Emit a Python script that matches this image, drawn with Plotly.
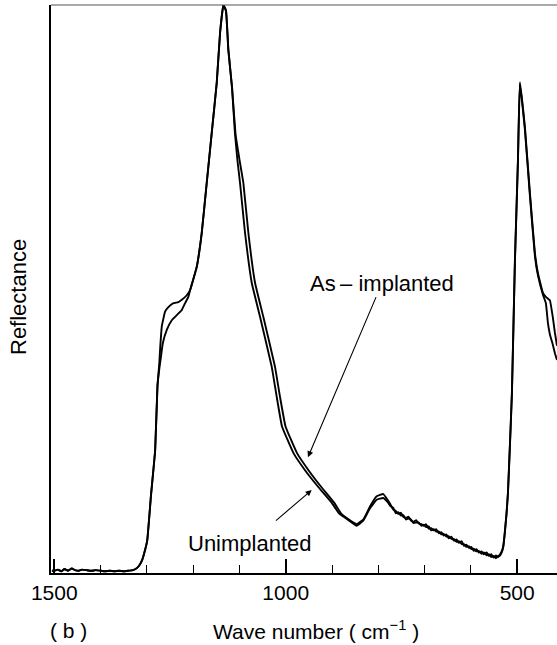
import plotly.graph_objects as go

# ---------------- data ----------------
# common low-wavenumber baseline + rise (shared by both spectra)
common_wn = [1505, 1500, 1492, 1485, 1478, 1470, 1462, 1455, 1447, 1440, 1430,
             1420, 1410, 1400, 1390, 1380, 1370, 1360, 1350, 1340, 1330, 1321,
             1315, 1310, 1304, 1299, 1291, 1282, 1277]
common_r = [0.4, 0.4, 0.6, 0.3, 0.7, 0.4, 0.8, 0.5, 0.4, 0.6, 0.5,
            0.4, 0.5, 0.4, 0.3, 0.4, 0.3, 0.4, 0.3, 0.4, 0.5, 0.9,
            1.5, 2.3, 4.0, 5.8, 13.7, 21.6, 33.0]

# shoulder (~1250 cm-1)
asimp_shoulder_wn = [1273, 1271.4, 1267.7, 1260.6, 1253.5, 1242.7, 1231.9, 1224.5, 1213.7]
asimp_shoulder_r = [37.0, 39.3, 43.4, 46.0, 46.8, 47.5, 47.7, 48.1, 48.9]
unimp_shoulder_wn = [1273, 1269.9, 1265.6, 1256.9, 1246.1, 1235.3, 1224.5, 1217.4, 1210.3]
unimp_shoulder_r = [36.0, 37.8, 40.4, 42.8, 44.5, 45.4, 46.3, 47.5, 48.6]

# main peak (~1135 cm-1), shared
peak_wn = [1206.6, 1192.2, 1181.4, 1170.6, 1159.8, 1149.0, 1141.8, 1134.7, 1129.0,
           1123.9, 1116.0]
peak_r = [49.8, 53.9, 59.9, 68.7, 77.5, 86.3, 95.1, 100.0, 99.0,
          92.1, 85.5]

# high-frequency tail of the main band
asimp_tail_wn = [1108.0, 1099.5, 1091.5, 1080.7, 1066.3, 1048.4, 1023.1, 1012.3, 1000.4, 975.6,
                 950.8, 922.7, 894.6, 880.6, 861.2, 846.7]
asimp_tail_r = [77.0, 72.6, 68.7, 59.9, 51.1, 45.1, 36.3, 31.0, 25.8, 21.1,
                18.1, 15.1, 12.3, 10.5, 9.3, 8.6]
unimp_tail_wn = [1110.0, 1104.5, 1098.7, 1087.9, 1073.4, 1055.5, 1030.2, 1019.4, 1008.0, 983.2,
                 958.3, 929.2, 900.0, 884.9, 864.4, 846.7]
unimp_tail_r = [77.8, 72.8, 68.7, 59.9, 51.1, 45.1, 36.3, 31.0, 25.8, 21.1,
                18.1, 15.1, 12.3, 10.5, 9.3, 8.3]

# small band near 790 cm-1 and noisy decline to ~540 cm-1
asimp_mid_wn = [832.5, 818, 803.5, 789.3, 780, 774, 768, 762, 757, 751, 746, 740,
                735, 729, 724, 718, 713, 707, 702, 697, 691, 686, 680, 675, 669,
                664, 659, 653, 648, 642, 637, 631, 626, 620, 615, 610, 604, 599,
                594, 588, 583, 577, 572, 566, 561, 556, 551, 546, 541, 537, 533, 530]
asimp_mid_r = [9.4, 11.7, 13.5, 13.9, 12.9, 12.1, 11.2, 10.9, 10.4, 10.6, 9.9, 9.7,
               9.9, 9.2, 9.0, 9.3, 8.7, 8.6, 8.3, 8.6, 7.8, 7.9, 7.5, 7.7, 7.0,
               7.2, 6.6, 6.8, 6.1, 6.4, 5.7, 5.9, 5.3, 5.6, 4.8, 5.0, 4.4, 4.6,
               3.9, 4.2, 3.6, 3.8, 3.3, 3.6, 3.0, 3.3, 2.7, 3.1, 2.8, 3.3, 3.9, 4.8]
unimp_mid_wn = [832.5, 818, 803.5, 789.3, 780, 774, 768, 762, 757, 751, 746, 740,
                735, 729, 724, 718, 713, 707, 702, 697, 691, 686, 680, 675, 669,
                664, 659, 653, 648, 642, 637, 631, 626, 620, 615, 610, 604, 599,
                594, 588, 583, 577, 572, 566, 561, 556, 551, 546, 541, 537, 533, 530]
unimp_mid_r = [9.2, 11.4, 12.9, 13.2, 12.5, 11.8, 11.5, 10.5, 10.7, 10.1, 10.2, 9.4,
               9.6, 9.4, 8.8, 8.9, 8.9, 8.3, 8.5, 8.1, 8.2, 7.5, 7.7, 7.3, 7.3,
               6.8, 6.9, 6.4, 6.5, 6.0, 6.0, 5.5, 5.6, 5.1, 5.1, 4.6, 4.7, 4.2,
               4.3, 3.8, 3.9, 3.4, 3.6, 3.1, 3.3, 2.8, 3.0, 2.6, 3.0, 3.1, 3.7, 4.6]

# band near 495 cm-1
asimp_low_wn = [527, 523, 520, 516, 511.4, 504.9, 498.4, 494.1, 489, 483.3, 472.5,
                461.7, 455.2, 444.4, 438, 433.6, 429.3, 423, 418.5, 414]
asimp_low_r = [7.0, 10.6, 14.1, 22.0, 31.7, 55.1, 72.7, 86.4, 83.0, 78.5, 66.9,
               56.3, 52.8, 49.3, 48.6, 48.3, 48.0, 45.0, 42.3, 40.0]
unimp_low_wn = [527, 523, 520, 516, 511.4, 504.9, 498.4, 494.6, 489, 483.3, 472.5,
                461.7, 455.2, 444.4, 438, 433.6, 429.3, 423, 418.5, 414]
unimp_low_r = [6.8, 10.4, 14.0, 21.8, 31.5, 54.8, 72.3, 86.0, 82.6, 78.0, 66.4,
               55.8, 52.4, 49.0, 47.5, 44.0, 42.0, 40.2, 38.7, 37.5]

# annotation targets (wave number, reflectance)
asimp_arrow = (951.9, 20.4)
unimp_arrow = (943.9, 14.6)

# ---------------- assemble series ----------------
asimp_wn = common_wn + asimp_shoulder_wn + peak_wn + asimp_tail_wn + asimp_mid_wn + asimp_low_wn
asimp_r = common_r + asimp_shoulder_r + peak_r + asimp_tail_r + asimp_mid_r + asimp_low_r
unimp_wn = common_wn + unimp_shoulder_wn + peak_wn + unimp_tail_wn + unimp_mid_wn + unimp_low_wn
unimp_r = common_r + unimp_shoulder_r + peak_r + unimp_tail_r + unimp_mid_r + unimp_low_r

FONT = "Liberation Sans, Arial, Helvetica, sans-serif"

fig = go.Figure()
for name, xs, ys in [("Unimplanted", unimp_wn, unimp_r), ("As-implanted", asimp_wn, asimp_r)]:
    fig.add_trace(go.Scatter(x=xs, y=ys, mode="lines", name=name,
                             line=dict(color="black", width=1.9, shape="spline", smoothing=0.3),
                             showlegend=False, hoverinfo="skip"))

fig.update_layout(
    width=557, height=645,
    margin=dict(l=51, r=0, t=5, b=72),
    paper_bgcolor="white", plot_bgcolor="white",
    font=dict(family=FONT, color="black", size=19),
    xaxis=dict(range=[1507, 414], showline=True, linecolor="black", linewidth=2,
               tickmode="linear", tick0=0, dtick=500,
               ticks="inside", ticklen=14, tickwidth=1.5, tickcolor="black",
               tickfont=dict(family=FONT, size=21, color="black"),
               minor=dict(tickmode="linear", tick0=0, dtick=100, ticks="inside",
                          ticklen=8, tickwidth=1.2, tickcolor="black", showgrid=False),
               showgrid=False, zeroline=False),
    yaxis=dict(range=[0, 100], showline=True, linecolor="black", linewidth=2,
               ticks="", showticklabels=False, showgrid=False, zeroline=False),
)

# top frame line
fig.add_shape(type="line", xref="paper", yref="paper", x0=0, x1=1, y0=1, y1=1,
              line=dict(color="#555555", width=1.2))

# texts
fig.add_annotation(text="Reflectance", xref="paper", yref="paper",
                   x=(18 - 51) / 506, y=(573 - 297) / 568, textangle=-90,
                   showarrow=False, xanchor="center", yanchor="middle",
                   font=dict(size=22, family=FONT))
fig.add_annotation(text="( b )", xref="paper", yref="paper",
                   x=(68 - 51) / 506, y=-(630 - 573) / 568,
                   showarrow=False, xanchor="center", yanchor="middle",
                   font=dict(size=21, family=FONT))
fig.add_annotation(text="Wave number ( cm<sup>−1</sup> )", xref="paper", yref="paper",
                   x=(316 - 51) / 506, y=-(630 - 573) / 568,
                   showarrow=False, xanchor="center", yanchor="middle",
                   font=dict(size=21, family=FONT))

# labels with arrows pointing at the curves
fig.add_annotation(text="As\u2009\u2013 implanted", x=asimp_arrow[0], y=asimp_arrow[1],
                   xref="x", yref="y", showarrow=True, ax=74, ay=-174,
                   arrowhead=2, arrowsize=1.1, arrowwidth=1.1, arrowcolor="black",
                   font=dict(size=22, family=FONT))
fig.add_annotation(text="Unimplanted", x=unimp_arrow[0], y=unimp_arrow[1],
                   xref="x", yref="y", showarrow=True, ax=-62, ay=53,
                   startstandoff=13,
                   arrowhead=2, arrowsize=1.1, arrowwidth=1.1, arrowcolor="black",
                   font=dict(size=22, family=FONT))

fig.write_html("out.html")
